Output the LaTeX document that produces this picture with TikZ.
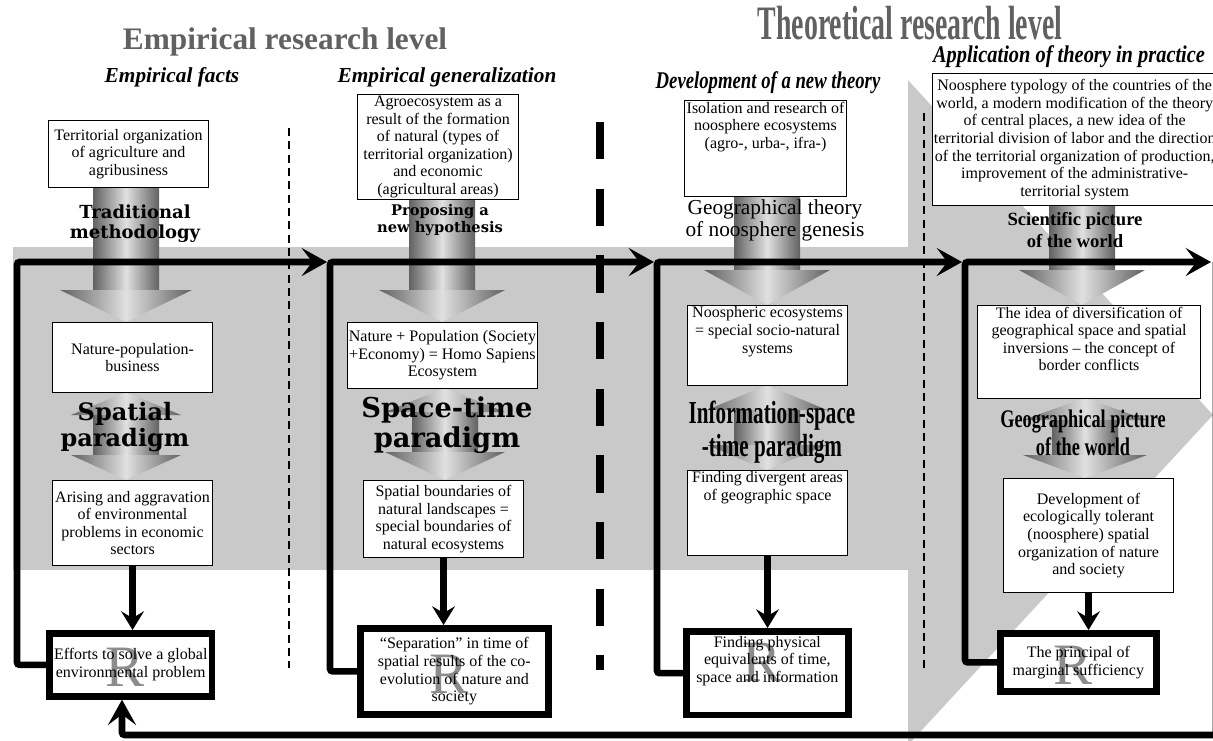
\documentclass[tikz,border=0pt]{standalone}
\usepackage{fontspec}
\setmainfont{Liberation Serif}
\newfontfamily\wideserif{DejaVu Serif}
\usepackage{graphicx}
\usetikzlibrary{arrows.meta}

% shaded block arrows
\newcommand\fatdown[6]{% x, top, base, tip, half shaft, half head
  \shade[fatshade] ({#1-#5},#2) rectangle ({#1+#5},#3);
  \shade[fatshade] ({#1-#6},#3) -- ({#1+#6},#3) -- (#1,#4) -- cycle;}
\newcommand\fatboth[7]{% x, top tip, base1, base2, bottom tip, half shaft, half head
  \shade[fatshade] ({#1-#7},#3) -- ({#1+#7},#3) -- (#1,#2) -- cycle;
  \shade[fatshade] ({#1-#6},#3) rectangle ({#1+#6},#4);
  \shade[fatshade] ({#1-#7},#4) -- ({#1+#7},#4) -- (#1,#5) -- cycle;}
\newcommand\cnd[2]{\scalebox{#1}[1]{#2}}

\tikzset{
  fatshade/.style={left color=black!62, right color=black!62, middle color=black!12},
  sz/.style 2 args={minimum width=#1*0.75pt, minimum height=#2*0.75pt},
  box/.style={draw, fill=white, line width=0.8pt, align=center, inner sep=1pt,
    anchor=north west, font=\fontsize{12}{13.2}\selectfont},
  rbox/.style={box, line width=5pt, inner sep=3.5pt, path picture={
    \node[draw=none, fill=none, anchor=center, text=black!45, font=\fontsize{44}{44}\selectfont]
      at ([xshift=-4pt, yshift=-2pt]path picture bounding box.center) {R};}},
  txtup/.style={text depth=#1},
  flow/.style={line width=5pt, rounded corners=2pt, -{Stealth[length=19pt,width=21pt,inset=8pt]}},
  down/.style={line width=5pt, -{Stealth[length=14pt,width=17pt,inset=5pt]}},
  lbl/.style={align=center, inner sep=0pt},
  hd/.style={lbl, font=\fontsize{16}{18}\selectfont\bfseries\itshape},
  wide/.style 2 args={lbl, font=\wideserif\bfseries\fontsize{#1}{#2}\selectfont},
  bold/.style 2 args={lbl, font=\bfseries\fontsize{#1}{#2}\selectfont},
}

\begin{document}
\begin{tikzpicture}[x=0.75pt, y=-0.75pt]
\useasboundingbox (0,0) rectangle (1213,740);
% background
\fill[black!21] (13,247) rectangle (910,570);
\fill[black!21] (908,80) -- (1213,415) -- (908,745) -- cycle;
\draw[line width=1pt, dash pattern=on 6pt off 4pt] (289,128) -- (289,668);
\draw[line width=5.5pt, dash pattern=on 28pt off 22pt] (600,122) -- (600,670);
\draw[line width=1pt, dash pattern=on 6pt off 4pt] (924,113) -- (924,668);

% block arrows
\fatdown{126}{185}{290}{322}{33}{66}
\fatdown{442}{200}{290}{322}{33}{63}
\fatdown{767}{196}{270}{305}{33}{63}
\fatdown{1082}{205}{270}{305}{33}{63}
\fatboth{126}{392}{415}{455}{480}{33}{55}
\fatboth{445}{388}{412}{452}{480}{33}{60}
\fatboth{767}{385}{410}{445}{470}{33}{60}
\fatboth{1085}{398}{420}{455}{478}{33}{62}

% titles
\node[bold={23.5}{25}, text=black!62] (emp) at (285,42) {Empirical research level};
\node[bold={36}{38}, text=black!62] (theo) at (910,23) {\cnd{0.58}{Theoretical research level}};
\node[hd] (facts) at (172,77) {Empirical facts};
\node[hd] (gener) at (447,77) {Empirical generalization};
\node[hd, font=\fontsize{18}{20}\selectfont\bfseries\itshape] (devel) at (768,83) {\cnd{0.78}{Development of a new theory}};
\node[hd, font=\fontsize{18}{20}\selectfont\bfseries\itshape] (appl) at (1069,57) {\cnd{0.85}{Application of theory in practice}};

% column 1
\node[box, sz={160}{67}] (B1a) at (48,120) {Territorial organization\\of agriculture and\\agribusiness};
\node[box, sz={160}{70}] (B1b) at (52,322) {Nature-population-\\business};
\node[box, sz={160}{85}] (B1c) at (52,480) {Arising and aggravation\\of environmental\\problems in economic\\sectors};
\node[rbox, sz={162}{63}] (R1) at (46,630) {Efforts to solve a global\\environmental problem};
\node[wide={13.5}{15}] (trad) at (135,224) {Traditional\\methodology};
\node[wide={18}{19.5}] (spat) at (125,427) {Spatial\\paradigm};

% column 2
\node[box, sz={161}{105}] (B2a) at (357,94) {Agroecosystem as a\\result of the formation\\of natural (types of\\territorial organization)\\and economic\\(agricultural areas)};
\node[box, sz={170}{66}] (B2b) at (347,322) {Nature + Population (Society\\+Economy) = Homo Sapiens\\Ecosystem};
\node[box, sz={160}{77}] (B2c) at (363,480) {Spatial boundaries of\\natural landscapes =\\special boundaries of\\natural ecosystems};
\node[rbox, sz={188}{86}] (R2) at (357,625) {“Separation” in time of\\spatial results of the co-\\evolution of nature and\\society};
\node[wide={11}{13}] (prop) at (440,220) {Proposing a\\new hypothesis};
\node[wide={20.5}{22.5}] (sptm) at (447,425) {Space-time\\paradigm};

% column 3
\node[box, sz={162}{20}, txtup=35pt] (B3a) at (684,100) {Isolation and research of\\noosphere ecosystems\\(agro-, urba-, ifra-)};
\node[box, sz={160}{20}, txtup=23pt] (B3b) at (687,305) {Noospheric ecosystems\\= special socio-natural\\systems};
\node[box, sz={160}{20}, txtup=40pt] (B3c) at (687,470) {Finding divergent areas\\of geographic space};
\node[rbox, sz={162}{20}, txtup=21pt] (R3) at (683,628) {Finding physical\\equivalents of time,\\space and information};
\node[lbl, font=\fontsize{16}{16.5}\selectfont] (geoth) at (775,220) {Geographical theory\\of noosphere genesis};
\node[bold={24}{25}] (info) at (772,432) {\cnd{0.66}{Information-space}\\\cnd{0.66}{-time paradigm}};

% column 4
\node[box, sz={282}{132}] (B4a) at (932,73) {Noosphere typology of the countries of the\\world, a modern modification of the theory\\of central places, a new idea of the\\territorial division of labor and the direction\\of the territorial organization of production,\\improvement of the administrative-\\territorial system};
\node[box, sz={223}{20}, txtup=20pt] (B4b) at (977,305) {The idea of diversification of\\geographical space and spatial\\inversions -- the concept of\\border conflicts};
\node[box, sz={170}{114}] (B4c) at (1003,478) {Development of\\ecologically tolerant\\(noosphere) spatial\\organization of nature\\and society};
\node[rbox, sz={156}{58}] (R4) at (997,630) {The principal of\\marginal sufficiency};
\node[bold={14}{16.5}] (scip) at (1075,230) {Scientific picture\\of the world};
\node[bold={19}{21}] (geop) at (1083,433) {\cnd{0.72}{Geographical picture}\\\cnd{0.72}{of the world}};

% flow lines
\coordinate (t2) at (327,262);
\coordinate (t3) at (654,262);
\coordinate (t4) at (962,262);
\coordinate (t5) at (1211,262);
\coordinate (fb) at (122,735);
\draw[flow] (R1.west) -| (17,262) -- (t2);
\draw[flow] (R2.west) -| (330,262) -- (t3);
\draw[flow] (R3.west) -| (657,262) -- (t4);
\draw[flow] (R4.west) -| (965,262) -- (t5);
\draw[flow] (1216,262) |- (fb) -- (fb |- R1.south);
\draw[down] (B1c.south) -- (B1c.south |- R1.north);
\draw[down] (B2c.south) -- (B2c.south |- R2.north);
\draw[down] (B3c.south) -- (B3c.south |- R3.north);
\draw[down] (B4c.south) -- (B4c.south |- R4.north);
\end{tikzpicture}
\end{document}
